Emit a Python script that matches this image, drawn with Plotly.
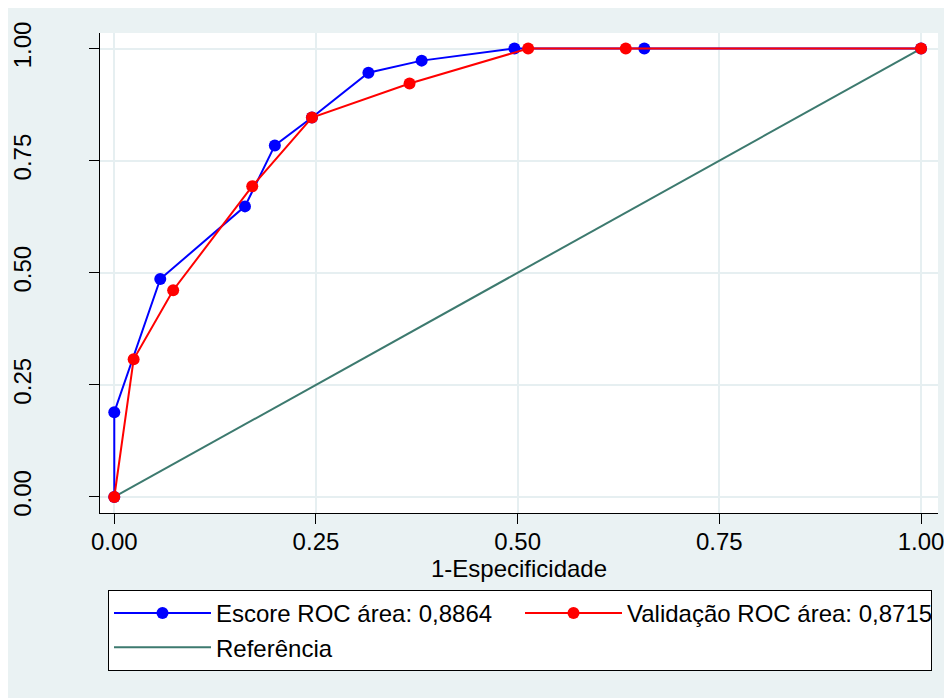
import plotly.graph_objects as go

# Data
escore_x = [0.0, 0.0, 0.057, 0.162, 0.199, 0.245, 0.315, 0.381, 0.496, 0.657, 1.0]
escore_y = [0.0, 0.189, 0.486, 0.648, 0.784, 0.846, 0.946, 0.973, 1.0, 1.0, 1.0]

valid_x = [0.0, 0.024, 0.073, 0.171, 0.245, 0.366, 0.513, 0.634, 1.0]
valid_y = [0.0, 0.307, 0.461, 0.693, 0.846, 0.922, 1.0, 1.0, 1.0]

ref_x = [0.0, 1.0]
ref_y = [0.0, 1.0]

tick_vals = [0, 0.25, 0.5, 0.75, 1.0]
tick_text = ["0.00", "0.25", "0.50", "0.75", "1.00"]

names = ["Escore ROC área: 0,8864", "Validação ROC área: 0,8715", "Referência"]

BG = "#EAF2F3"
GRID = "#E6EFF1"
FONT = "Liberation Sans, Arial, sans-serif"

fig = go.Figure()
fig.add_trace(go.Scatter(x=ref_x, y=ref_y, mode="lines", name=names[2],
                         line=dict(color="#3D7A6F", width=2), legendrank=3))
fig.add_trace(go.Scatter(x=escore_x, y=escore_y, mode="lines+markers", name=names[0],
                         line=dict(color="#0000FF", width=2),
                         marker=dict(color="#0000FF", size=12), legendrank=1))
fig.add_trace(go.Scatter(x=valid_x, y=valid_y, mode="lines+markers", name=names[1],
                         line=dict(color="#FF0000", width=2),
                         marker=dict(color="#FF0000", size=12), legendrank=2))

axis_common = dict(
    tickvals=tick_vals, ticktext=tick_text, showgrid=True, gridcolor=GRID, gridwidth=2,
    zeroline=False, showline=True, linecolor="#000000", linewidth=1,
    ticks="outside", ticklen=10, tickcolor="#000000", tickwidth=1,
    tickfont=dict(family=FONT, size=24, color="#000000"),
)

fig.update_xaxes(range=[-0.0177, 1.021], ticklabelstandoff=-3,
                 title=dict(text="1-Especificidade", standoff=0,
                            font=dict(family=FONT, size=24, color="#000000")),
                 automargin=False, **axis_common)
fig.update_yaxes(range=[-0.0357, 1.0346], tickangle=-90, ticklabelstandoff=48,
                 automargin=False, **axis_common)

fig.update_layout(
    width=944, height=690, autosize=False,
    margin=dict(l=92, r=14, t=25, b=185, autoexpand=False),
    paper_bgcolor=BG, plot_bgcolor="#FFFFFF",
    font=dict(family=FONT, size=24, color="#000000"),
    showlegend=True,
    legend=dict(orientation="h", xref="container", yref="container",
                x=100 / 944, y=(690 - 582) / 690, xanchor="left", yanchor="top",
                bgcolor="#FFFFFF", bordercolor="#000000", borderwidth=1,
                entrywidth=299, itemwidth=97, traceorder="normal",
                font=dict(family=FONT, size=24, color="#000000")),
)

fig.write_html("out.html")
